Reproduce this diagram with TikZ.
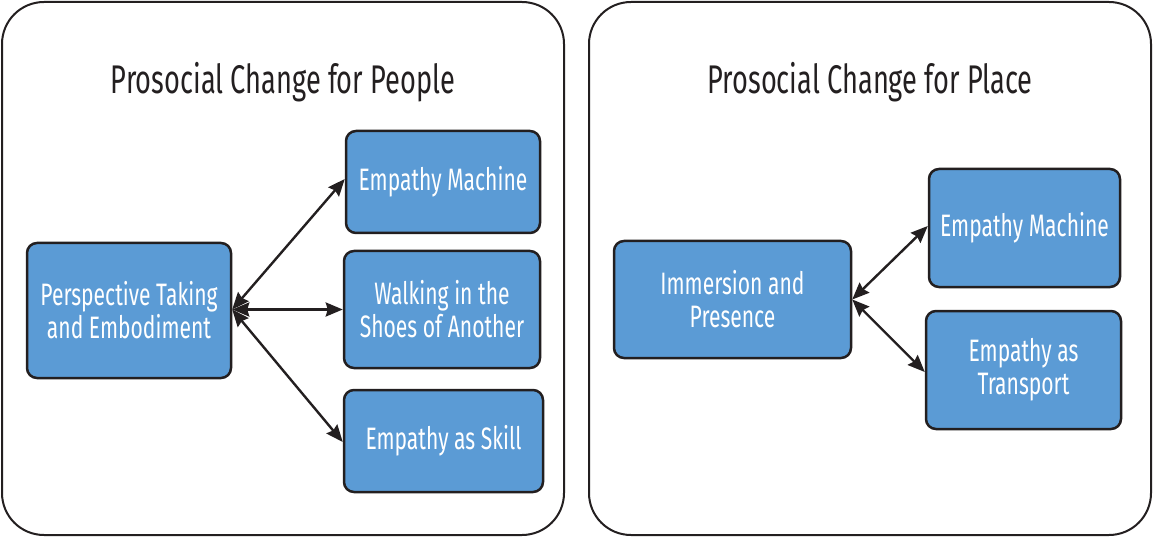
\documentclass[tikz,border=0pt]{standalone}
\usepackage{fontspec}
\setmainfont{Fira Sans}[FakeStretch=0.68]
\usetikzlibrary{arrows.meta}
\definecolor{boxblue}{HTML}{5B9BD5}
\definecolor{edge}{HTML}{231F20}
\tikzset{
  frame/.style={draw=edge, line width=2pt, rounded corners=42pt},
  bluebox/.style={draw=edge, fill=boxblue, line width=2.5pt, rounded corners=10pt,
    text=white, align=center, font=\fontsize{31}{33}\selectfont, inner sep=0pt},
  title/.style={font=\fontsize{40}{44}\selectfont, text=edge, inner sep=0pt},
  link/.style={draw=edge, line width=2.4pt,
    {Stealth[length=17pt,width=14pt,inset=2pt]}-{Stealth[length=17pt,width=14pt,inset=2pt]}}
}
\begin{document}
\begin{tikzpicture}[x=1pt,y=-1pt]
\useasboundingbox (0,0) rectangle (1153,537);
\draw[frame] (2,2) rectangle (564,535);
\draw[frame] (589,2) rectangle (1151,535);
\node[title] (t1) at (283,82) {Prosocial Change for People};
\node[title] (t2) at (870,82) {Prosocial Change for Place};

\node[bluebox, minimum width=204pt, minimum height=135pt] (pt) at (129,310.5) {Perspective Taking\\and Embodiment};
\node[bluebox, minimum width=194pt, minimum height=102pt] (em1) at (443,182) {Empathy Machine};
\node[bluebox, minimum width=196pt, minimum height=117pt] (wk) at (442,309.5) {Walking in the\\Shoes of Another};
\node[bluebox, minimum width=199pt, minimum height=102pt] (sk) at (443.5,441) {Empathy as Skill};

\node[bluebox, minimum width=237pt, minimum height=117pt] (im) at (732.5,299.5) {Immersion and\\Presence};
\node[bluebox, minimum width=191pt, minimum height=118pt] (em2) at (1024.5,228) {Empathy Machine};
\node[bluebox, minimum width=195pt, minimum height=118pt] (tr) at (1023.5,370) {Empathy as\\Transport};

\coordinate (s1) at ([yshift=1pt]pt.east);
\draw[link] (s1) -- ([yshift=3pt]em1.west);
\draw[link] (s1) -- (wk.west);
\draw[link] (s1) -- ([yshift=-1pt]sk.west);

\coordinate (s2) at (im.east);
\draw[link] (s2) -- ([yshift=2pt]em2.west);
\draw[link] (s2) -- ([yshift=-2pt]tr.west);
\end{tikzpicture}
\end{document}
